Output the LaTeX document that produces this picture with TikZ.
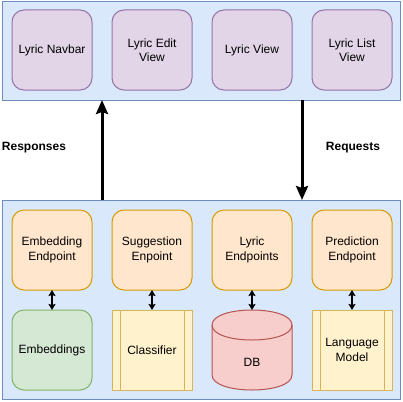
\documentclass[tikz,border=0pt]{standalone}
\usepackage{fontspec}
\setmainfont{Liberation Sans}
\usetikzlibrary{arrows.meta}
\definecolor{bluef}{HTML}{DAE8FC}
\definecolor{blued}{HTML}{6C8EBF}
\definecolor{purplef}{HTML}{E1D5E7}
\definecolor{purpled}{HTML}{9673A6}
\definecolor{orangef}{HTML}{FFE6CC}
\definecolor{oranged}{HTML}{D79B00}
\definecolor{greenf}{HTML}{D5E8D4}
\definecolor{greend}{HTML}{82B366}
\definecolor{redf}{HTML}{F8CECC}
\definecolor{redd}{HTML}{B85450}
\definecolor{yellowf}{HTML}{FFF2CC}
\definecolor{yellowd}{HTML}{D6B656}
\begin{document}
\begin{tikzpicture}[x=1pt,y=-1pt,
  container/.style={rectangle, fill=bluef, draw=blued, line width=1pt, outer sep=0pt, minimum width=398pt},
  box/.style={rectangle, rounded corners=12pt, minimum width=80pt, minimum height=80pt, line width=1pt, align=center, font=\fontsize{12}{14.5}\selectfont, outer sep=0pt, inner sep=2pt},
  viewbox/.style={box, fill=purplef, draw=purpled},
  endbox/.style={box, fill=orangef, draw=oranged},
  storebox/.style={box, fill=greenf, draw=greend},
  procbox/.style={box, rounded corners=0pt, fill=yellowf, draw=yellowd},
  procline/.style={draw=yellowd, line width=1pt},
  dbtext/.style={box, draw=none, fill=none},
  bigarrow/.style={line width=3pt, -{Stealth[length=14pt,width=12pt,inset=2pt]}},
  linkarrow/.style={line width=1.5pt, {Stealth[length=6pt,width=7pt,inset=1pt]}-{Stealth[length=6pt,width=7pt,inset=1pt]}},
  lbl/.style={font=\bfseries\fontsize{12}{14}\selectfont, inner sep=0pt}
]
\useasboundingbox (0,0) rectangle (403,401);

% containers
\node[container, minimum height=98pt] (top) at (201,51) {};
\node[container, minimum height=199pt] (bot) at (201,299.5) {};

% top row views
\node[viewbox] (nav) at (52,50) {Lyric Navbar};
\node[viewbox] (edit) at (152,50) {Lyric Edit\\View};
\node[viewbox] (view) at (252,50) {Lyric View};
\node[viewbox] (list) at (352,50) {Lyric List\\View};

% endpoints
\node[endbox] (embe) at (52,250) {Embedding\\Endpoint};
\node[endbox] (sugg) at (152,250) {Suggestion\\Enpoint};
\node[endbox] (lyre) at (252,250) {Lyric\\Endpoints};
\node[endbox] (pred) at (352,250) {Prediction\\Endpoint};

% stores
\node[storebox] (emb) at (52,350) {Embeddings};
\node[procbox] (cls) at (152,350) {Classifier};
\draw[procline] ([xshift=8pt]cls.north west) -- ([xshift=8pt]cls.south west);
\draw[procline] ([xshift=-8pt]cls.north east) -- ([xshift=-8pt]cls.south east);
\node[procbox] (lm) at (352,350) {Language\\Model};
\draw[procline] ([xshift=8pt]lm.north west) -- ([xshift=8pt]lm.south west);
\draw[procline] ([xshift=-8pt]lm.north east) -- ([xshift=-8pt]lm.south east);

% DB cylinder
\draw[fill=redf, draw=redd, line width=1pt]
  (212,325) -- (212,375) .. controls (212,395) and (292,395) .. (292,375)
  -- (292,325) .. controls (292,305) and (212,305) .. (212,325) -- cycle;
\draw[draw=redd, line width=1pt] (212,325) .. controls (212,345) and (292,345) .. (292,325);
\node[dbtext, label={[font=\fontsize{12}{14.5}\selectfont, yshift=-12pt]center:DB}] (db) at (252,350) {};

% links
\draw[linkarrow] (embe.south) -- (emb.north);
\draw[linkarrow] (sugg.south) -- (cls.north);
\draw[linkarrow] (lyre.south) -- (db.north);
\draw[linkarrow] (pred.south) -- (lm.north);

% big arrows
\coordinate (respx) at (102,150);
\coordinate (reqx) at (302,150);
\draw[bigarrow] (bot.north -| respx) -- (top.south -| respx);
\draw[bigarrow] (top.south -| reqx) -- (bot.north -| reqx);

\node[lbl] (resp) at (34,147.5) {Responses};
\node[lbl] (req) at (353,147.5) {Requests};
\end{tikzpicture}
\end{document}
